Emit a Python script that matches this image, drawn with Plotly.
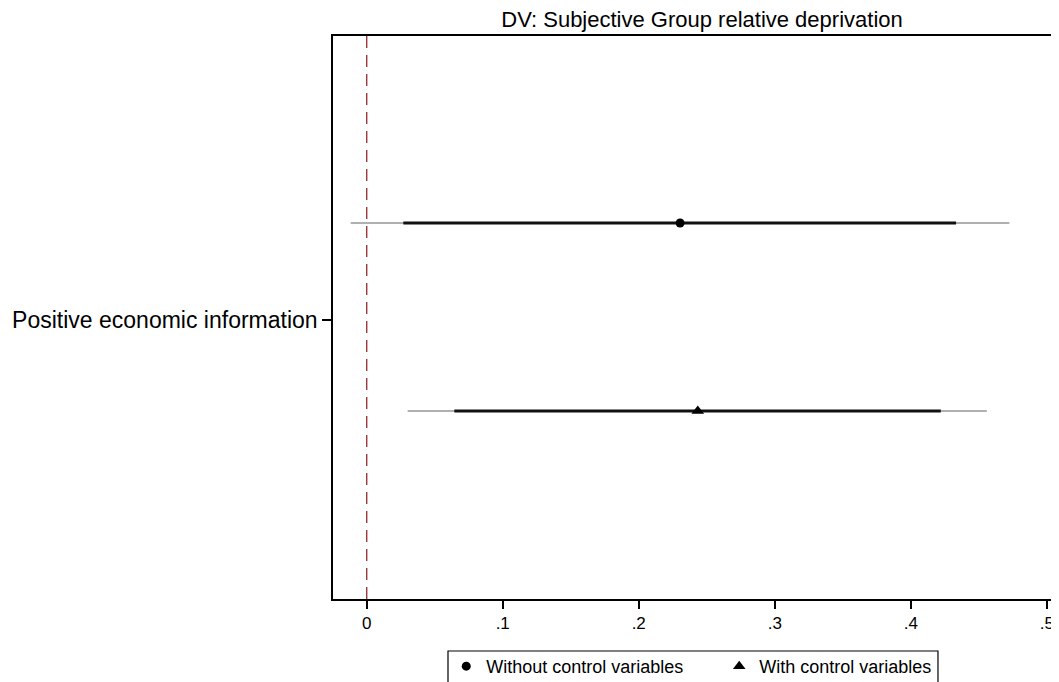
import plotly.graph_objects as go

# ---- data ----
category = "Positive economic information"
series_names = ["Without control variables", "With control variables"]
point_est = [0.2304, 0.2434]
ci95_lo = [-0.0118, 0.0301]
ci95_hi = [0.4725, 0.4559]
ci90_lo = [0.0269, 0.0644]
ci90_hi = [0.4333, 0.4221]
x_ticks = [0, 0.1, 0.2, 0.3, 0.4, 0.5]
x_tick_labels = ["0", ".1", ".2", ".3", ".4", ".5"]

# ---- style ----
offsets = [0.206, -0.194]
symbols = ["circle", "triangle-up"]
msizes = [9, 11]
legend_ids = ["legend", "legend2"]
FONT = "Liberation Sans, Arial, sans-serif"

W, H = 1051, 674
ML, MT, MB = 325, 28, 83

fig = go.Figure()

for i in range(2):
    y = offsets[i]
    fig.add_trace(go.Scatter(x=[ci95_lo[i], ci95_hi[i]], y=[y, y], mode="lines",
                             line=dict(color="#b0b0b0", width=2), showlegend=False,
                             hoverinfo="skip"))
    fig.add_trace(go.Scatter(x=[ci90_lo[i], ci90_hi[i]], y=[y, y], mode="lines",
                             line=dict(color="#111111", width=3), showlegend=False,
                             hoverinfo="skip"))
    fig.add_trace(go.Scatter(x=[point_est[i]], y=[y], mode="markers", name=series_names[i],
                             marker=dict(symbol=symbols[i], size=msizes[i], color="black",
                                         line=dict(width=0)),
                             showlegend=True, legend=legend_ids[i]))

fig.add_shape(type="line", xref="x", yref="paper", x0=0, x1=0, y0=0, y1=1,
              line=dict(color="#962a2e", width=1.3, dash="12px,7px"), layer="below")

# legend frame
fig.add_shape(type="rect", xref="paper", yref="paper", x0=0.1584, x1=0.8333,
              y0=-0.0924, y1=-0.20, line=dict(color="black", width=1.2),
              fillcolor="rgba(0,0,0,0)")

leg_common = dict(orientation="h", xanchor="left", yanchor="top", y=-0.087,
                  borderwidth=0, bgcolor="rgba(0,0,0,0)",
                  font=dict(size=18, family=FONT, color="black"))

fig.update_layout(
    width=W, height=H,
    margin=dict(l=ML, r=0, t=MT, b=MB, autoexpand=False),
    paper_bgcolor="white", plot_bgcolor="white",
    font=dict(family=FONT, color="black"),
    title=dict(text="DV: Subjective Group relative deprivation", x=694 / W,
               xanchor="center", y=1 - 11 / H, yanchor="middle",
               font=dict(size=22, family=FONT, color="black")),
    legend=dict(x=0.1560, **leg_common),
    legend2=dict(x=0.532, **leg_common),
    xaxis=dict(range=[-0.0248, 0.509], tickvals=x_ticks, ticktext=x_tick_labels,
               showgrid=False, zeroline=False, showline=True, linecolor="black",
               linewidth=1.5, mirror=True, ticks="outside", ticklen=8, tickwidth=1.5,
               tickcolor="black", tickfont=dict(size=17, family=FONT)),
    yaxis=dict(range=[-0.594, 0.604], tickvals=[0], ticktext=[category],
               showgrid=False, zeroline=False, showline=True, linecolor="black",
               linewidth=1.5, mirror=True, ticks="outside", ticklen=9, tickwidth=1.5,
               tickcolor="black", tickfont=dict(size=23, family=FONT)),
)

fig.write_html("out.html")
